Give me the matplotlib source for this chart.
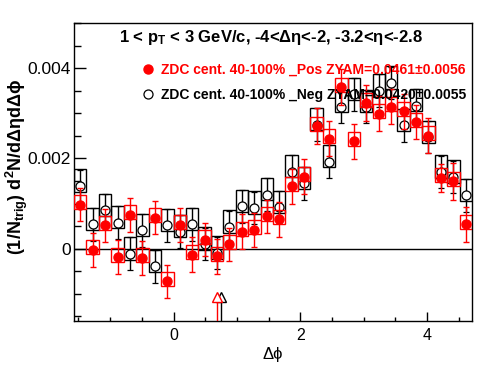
import numpy as np
import matplotlib
matplotlib.use('Agg')
import matplotlib.pyplot as plt
from matplotlib.patches import Rectangle
from matplotlib.lines import Line2D
from matplotlib.ticker import MultipleLocator

plt.rcParams['font.family'] = ['Liberation Sans', 'DejaVu Sans']
plt.rcParams['mathtext.fontset'] = 'custom'
plt.rcParams['mathtext.rm'] = 'Liberation Sans:bold'
plt.rcParams['mathtext.it'] = 'Liberation Sans:bold'
plt.rcParams['mathtext.bf'] = 'Liberation Sans:bold'

# 32 bins in delta phi from -pi/2 to 3pi/2
nbins = 32
edges = np.linspace(-np.pi / 2, 3 * np.pi / 2, nbins + 1)
centers = 0.5 * (edges[:-1] + edges[1:])
bw = edges[1] - edges[0]

# ZDC 40-100%, positive side (red, filled)
pos_y = [0.00098, -0.00002, 0.00052, -0.00019, 0.00075, -0.00020, 0.00069, -0.00072,
         0.00053, -0.00013, 0.00020, -0.00017, 0.00010, 0.00038, 0.00042, 0.00072,
         0.00065, 0.00138, 0.00160, 0.00271, 0.00244, 0.00358, 0.00238, 0.00323,
         0.00299, 0.00315, 0.00304, 0.00280, 0.00250, 0.00157, 0.00149, 0.00054]
pos_err = [0.00037, 0.00038, 0.00037, 0.00038, 0.00037, 0.00038, 0.00037, 0.00037,
           0.00038, 0.00038, 0.00037, 0.00038, 0.00037, 0.00038, 0.00038, 0.00037,
           0.00038, 0.00038, 0.00038, 0.00040, 0.00039, 0.00040, 0.00039, 0.00039,
           0.00039, 0.00038, 0.00039, 0.00038, 0.00039, 0.00031, 0.00041, 0.00039]
pos_sys_up = 0.00021
pos_sys_dn = 0.00010

# ZDC 40-100%, negative side (black, open)
neg_y = [0.00139, 0.00054, 0.00085, 0.00058, -0.00011, 0.00041, -0.00039, 0.00052,
         0.00038, 0.00054, 0.00011, -0.00009, 0.00048, 0.00094, 0.00090, 0.00120,
         0.00092, 0.00171, 0.00145, 0.00275, 0.00193, 0.00315, 0.00342, 0.00315,
         0.00350, 0.00367, 0.00273, 0.00317, 0.00247, 0.00170, 0.00159, 0.00118]
neg_err = [0.00036] * nbins
neg_sys_up = 0.00037
neg_sys_dn = 0.00013

# ZYAM minimum positions
zyam_x = [0.687, 0.756]
zyam_col = ['red', 'black']

pos_label = 'ZDC cent. 40-100% _Pos ZYAM=0.0461\u00b10.0056'
neg_label = 'ZDC cent. 40-100% _Neg ZYAM=0.0420\u00b10.0055'

fig = plt.figure(figsize=(4.96, 3.74), dpi=100)
ax = fig.add_axes([74 / 496, 1 - 321 / 374, 398 / 496, 298 / 374])

ax.axhline(0, color='black', lw=1.0, zorder=1)

# systematic boxes
for x, y in zip(centers, neg_y):
    ax.add_patch(Rectangle((x - bw / 2, y - neg_sys_dn), bw, neg_sys_up + neg_sys_dn,
                           fill=False, ec='black', lw=1.0, zorder=2))
ax.errorbar(centers, neg_y, yerr=neg_err, fmt='o', ms=6.5, mfc='white', mec='black',
            mew=0.9, ecolor='black', elinewidth=1.0, capsize=2.5, capthick=1.0, zorder=3)
for x, y in zip(centers, pos_y):
    ax.add_patch(Rectangle((x - bw / 2, y - pos_sys_dn), bw, pos_sys_up + pos_sys_dn,
                           fill=False, ec='red', lw=1.0, zorder=4))
ax.errorbar(centers, pos_y, yerr=pos_err, fmt='o', ms=6.5, mfc='red', mec='red',
            ecolor='red', elinewidth=1.0, capsize=2.5, capthick=1.0, zorder=5)

# ZYAM arrows
for zx, c in zip(zyam_x[::-1], zyam_col[::-1]):
    ax.plot([zx, zx], [-0.00118, -0.0016], color=c, lw=1.0, zorder=6)
    ax.plot([zx], [-0.00106], marker='^', ms=7.7, mfc='white', mec=c, mew=1.0, zorder=6)

ax.set_xlim(-np.pi / 2, 3 * np.pi / 2)
ax.set_ylim(-0.0016, 0.005)

ax.set_xticks([0, 2, 4])
ax.set_xticklabels(['0', '2', '4'])
ax.xaxis.set_minor_locator(MultipleLocator(0.5))
ax.set_yticks([0, 0.002, 0.004])
ax.set_yticklabels(['0', '0.002', '0.004'])
ax.yaxis.set_minor_locator(MultipleLocator(0.0005))
ax.tick_params(direction='in', which='both', top=False, right=False, width=1.0)
ax.tick_params(axis='x', which='major', length=6.3, pad=5, labelsize=11.5)
ax.tick_params(axis='x', which='minor', length=3.2)
ax.tick_params(axis='y', which='major', length=8.5, pad=2, labelsize=12.5)
ax.tick_params(axis='y', which='minor', length=4.7)
for s in ax.spines.values():
    s.set_linewidth(1.0)

ax.set_xlabel('\u0394\u03d5', fontsize=12)
ax.xaxis.set_label_coords(0.5, -0.088)
ax.set_ylabel('(1/N$_{trig}$) d$^{2}$N/d\u0394\u03b7d\u0394\u03d5', fontsize=13, fontweight='bold', va='center')
ax.yaxis.set_label_coords(-0.143, 0.517)

ax.text(0.496, 0.95, '1 < p$_{T}$ < 3 GeV/c, -4<\u0394\u03b7<-2, -3.2<\u03b7<-2.8',
        transform=ax.transAxes, ha='center', va='center', fontsize=12, fontweight='bold')

handles = [Line2D([], [], ls='none', marker='o', ms=6.5, mfc='red', mec='red'),
           Line2D([], [], ls='none', marker='o', ms=6.5, mfc='white', mec='black', mew=0.9)]
leg = ax.legend(handles, [pos_label, neg_label], loc='upper left', bbox_to_anchor=(0.171, 0.867),
                frameon=False, fontsize=10, handlelength=0.8, handletextpad=0.56,
                labelspacing=0.79, borderaxespad=0, borderpad=0, labelcolor=['red', 'black'])
for t in leg.get_texts():
    t.set_fontweight('bold')

fig.savefig('out.png', dpi=100)
